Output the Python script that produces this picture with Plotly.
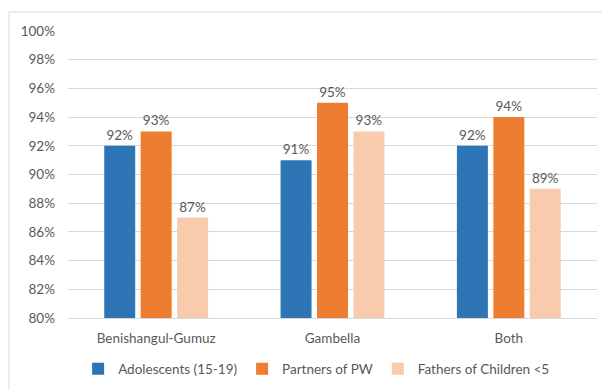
import plotly.graph_objects as go

categories = ["Benishangul-Gumuz", "Gambella", "Both"]
series_names = ["Adolescents (15-19)", "Partners of PW", "Fathers of Children <5"]
adolescents = [92, 91, 92]
partners = [93, 95, 94]
fathers = [87, 93, 89]
tick_vals = [80, 82, 84, 86, 88, 90, 92, 94, 96, 98, 100]
tick_text = [f"{v}%" for v in tick_vals]

colors = ["#2E75B6", "#ED7D31", "#F8CBAD"]
font_color = "#595959"
font_family = "Lato, Liberation Sans, sans-serif"
fs = 13.5

fig = go.Figure()
for name, vals, col in zip(series_names, [adolescents, partners, fathers], colors):
    fig.add_trace(go.Bar(
        x=categories, y=vals, name=name, marker_color=col,
        marker_line_width=0,
        text=[f"{v}%" for v in vals], textposition="outside",
        textfont=dict(color=font_color, size=fs, family=font_family),
        cliponaxis=False,
    ))

W, H = 602, 389
ml, mr, mt, mb = 68, 5, 31, 71
pw = W - ml - mr
ph = H - mt - mb

fig.update_layout(
    width=W, height=H,
    margin=dict(l=ml, r=mr, t=mt, b=mb),
    paper_bgcolor="white", plot_bgcolor="white",
    barmode="group", bargap=0.38, bargroupgap=0.15,
    font=dict(family=font_family, color=font_color, size=fs),
    showlegend=True,
    legend=dict(orientation="h", x=0.47, xanchor="center", y=-0.178, yanchor="middle",
                font=dict(size=fs, color=font_color), itemwidth=30, traceorder="normal"),
)
fig.update_yaxes(range=[80, 100], tickmode="array", tickvals=tick_vals, ticktext=tick_text,
                 showgrid=True, gridcolor="#D9D9D9", gridwidth=1,
                 zeroline=False, showline=False, ticks="", ticklabelstandoff=12,
                 tickfont=dict(size=fs, color=font_color))
fig.update_xaxes(showline=True, linecolor="#D9D9D9", linewidth=1, ticks="",
                 ticklabelstandoff=8, tickfont=dict(size=fs, color=font_color))

# outer chart border
x0 = (9 - ml) / pw
y1 = (H - mb - 12) / ph
fig.add_shape(type="rect", xref="paper", yref="paper",
              x0=x0, x1=1.2, y0=-0.5, y1=y1,
              line=dict(color="#D9D9D9", width=1), fillcolor="rgba(0,0,0,0)", layer="below")

fig.write_html("out.html")
